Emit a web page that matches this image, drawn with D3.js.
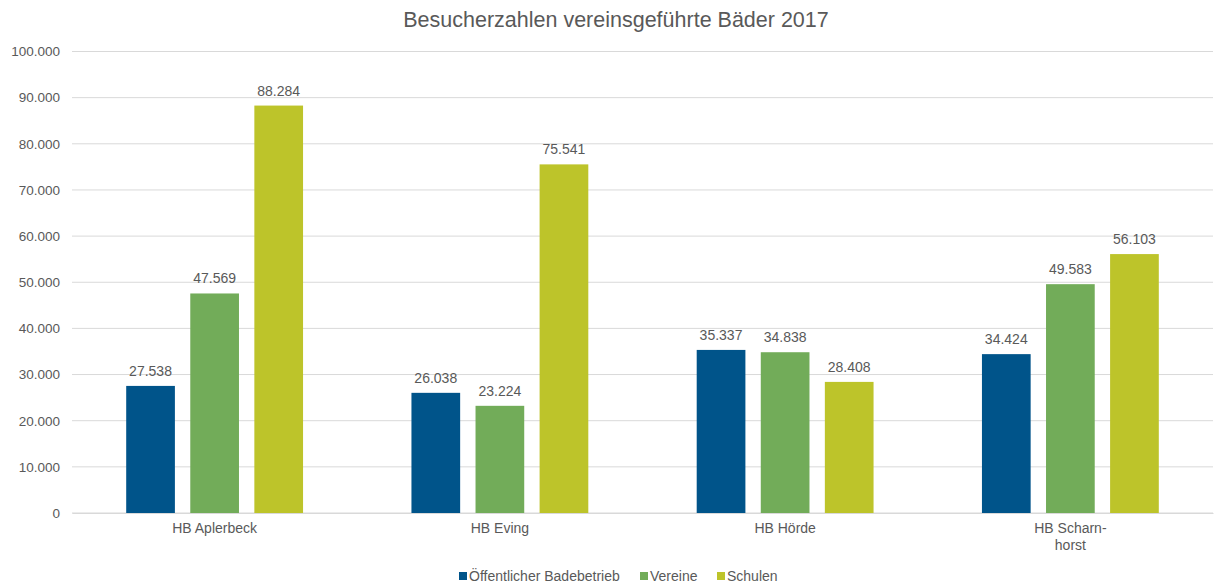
<!DOCTYPE html>
<head>
<title>Besucherzahlen vereinsgeführte Bäder 2017</title>
<script src="https://d3js.org/d3.v7.min.js"></script>
<style>
  body { margin: 0; background: #fff; }
  text { font-family: "Liberation Sans", Arial, sans-serif; fill: #595959; }
</style>
</head>
<body>
<div id="my_dataviz"></div>
<script>

const categories = ['HB Aplerbeck', 'HB Eving', 'HB Hörde', 'HB Scharnhorst'];
const tickLabels = [['HB Aplerbeck'], ['HB Eving'], ['HB Hörde'], ['HB Scharn-', 'horst']];
const seriesNames = ['Öffentlicher Badebetrieb', 'Vereine', 'Schulen'];
const oeffentlich = [27538, 26038, 35337, 34424];
const vereine = [47569, 23224, 34838, 49583];
const schulen = [88284, 75541, 28408, 56103];
const yTicks = [0, 10000, 20000, 30000, 40000, 50000, 60000, 70000, 80000, 90000, 100000];

const colours = ['#00548a', '#72ac59', '#bdc42a'];
const seriesValues = [oeffentlich, vereine, schulen];

// german number format
const de = d3.formatLocale({decimal: ',', thousands: '.', grouping: [3], currency: ['', ' €']});
const fmt = de.format(',.0f');

var W = 1214, H = 584;
var margin = {top: 51.5, right: 1, bottom: 71, left: 72},
    width = W - margin.left - margin.right,
    height = H - margin.top - margin.bottom;

var svg = d3.select('#my_dataviz')
  .append('svg')
    .attr('width', W)
    .attr('height', H);

// title
svg.append('text')
  .attr('x', W / 2 + 9)
  .attr('y', 27)
  .attr('text-anchor', 'middle')
  .style('font-size', '21.5px')
  .text('Besucherzahlen vereinsgeführte Bäder 2017');

var g = svg.append('g')
  .attr('transform', 'translate(' + margin.left + ',' + margin.top + ')');

var x0 = d3.scaleBand()
  .domain(categories)
  .range([0, width])
  .paddingInner(0.38)
  .paddingOuter(0.19);

var x1 = d3.scaleBand()
  .domain(seriesNames)
  .range([0, x0.bandwidth()])
  .paddingInner(0.24);

var y = d3.scaleLinear()
  .domain([0, 100000])
  .range([height, 0]);

// gridlines
g.selectAll('line.grid')
  .data(yTicks)
  .enter()
  .append('line')
    .attr('x1', 0)
    .attr('x2', width)
    .attr('y1', d => y(d))
    .attr('y2', d => y(d))
    .attr('stroke', '#d9d9d9')
    .attr('stroke-width', 1);

// Y axis labels
var yAxis = g.append('g')
  .call(d3.axisLeft(y).tickValues(yTicks).tickFormat(fmt).tickSize(0).tickPadding(12));
yAxis.select('.domain').remove();
yAxis.selectAll('text').style('font-size', '13.5px').attr('fill', '#595959');

// X axis labels
var xAxis = g.append('g')
  .attr('transform', 'translate(0,' + height + ')')
  .call(d3.axisBottom(x0).tickSize(0).tickFormat(''));
xAxis.select('.domain').attr('stroke', '#d9d9d9');
xAxis.selectAll('.tick').each(function(d, i) {
  var t = d3.select(this).append('text')
    .attr('y', 20)
    .attr('text-anchor', 'middle')
    .style('font-size', '14px')
    .attr('fill', '#595959');
  tickLabels[i].forEach(function(line, k) {
    t.append('tspan').attr('x', 0).attr('dy', k === 0 ? 0 : 17).text(line);
  });
});

// bars
var groups = g.selectAll('g.cat')
  .data(categories)
  .enter()
  .append('g')
    .attr('transform', d => 'translate(' + x0(d) + ',0)');

groups.selectAll('rect')
  .data((d, i) => seriesNames.map((s, j) => ({s: s, j: j, v: seriesValues[j][i]})))
  .enter()
  .append('rect')
    .attr('x', d => x1(d.s))
    .attr('width', x1.bandwidth())
    .attr('y', d => y(d.v))
    .attr('height', d => height - y(d.v))
    .attr('fill', d => colours[d.j]);

groups.selectAll('text.val')
  .data((d, i) => seriesNames.map((s, j) => ({s: s, j: j, v: seriesValues[j][i]})))
  .enter()
  .append('text')
    .attr('x', d => x1(d.s) + x1.bandwidth() / 2)
    .attr('y', d => y(d.v) - 10)
    .attr('text-anchor', 'middle')
    .style('font-size', '14px')
    .text(d => fmt(d.v));

// legend
var legend = svg.append('g');
var lx = [459, 640, 717];
seriesNames.forEach(function(s, j) {
  legend.append('rect')
    .attr('x', lx[j]).attr('y', 572)
    .attr('width', 8).attr('height', 8)
    .attr('fill', colours[j]);
  legend.append('text')
    .attr('x', lx[j] + 10).attr('y', 581)
    .style('font-size', '14px')
    .text(s);
});

</script>
</body>
</html>
